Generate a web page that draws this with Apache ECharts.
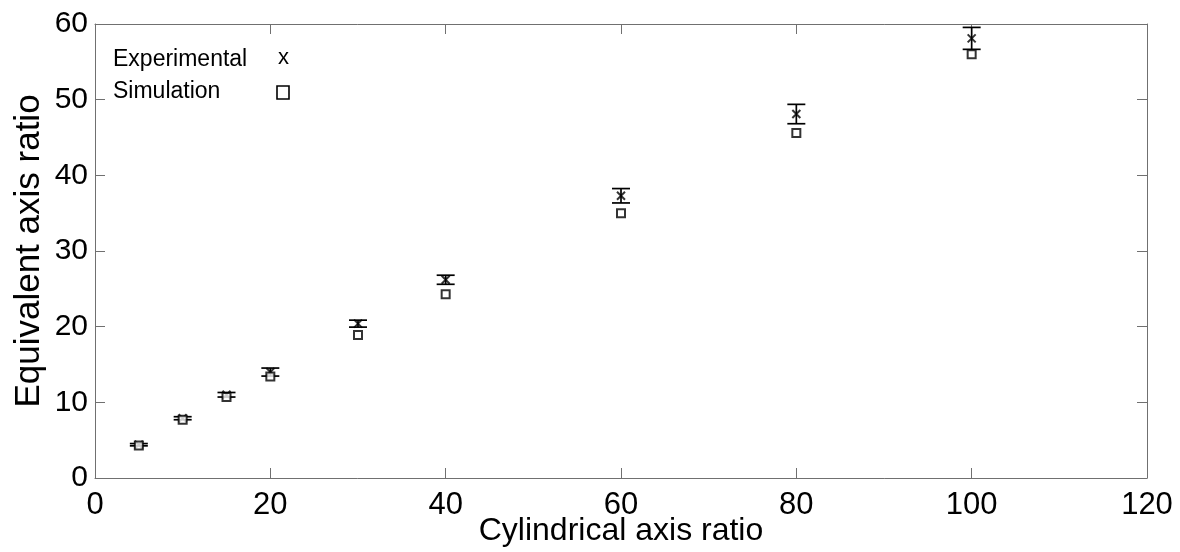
<!DOCTYPE html>
<html>
<head>
<meta charset="utf-8">
<script src="https://cdn.jsdelivr.net/npm/echarts@6/dist/echarts.min.js"></script>
<style>html,body{margin:0;padding:0;background:#fff;}#c{width:1180px;height:552px;}</style>
</head>
<body>
<div id="c"></div>
<script>
const xValues = [5, 10, 15, 20, 30, 40, 60, 80, 100];
const experimental = [4.4, 7.9, 11.0, 14.0, 20.4, 26.2, 37.3, 48.1, 58.1];
const experimentalErr = [0.15, 0.2, 0.3, 0.53, 0.46, 0.6, 0.95, 1.28, 1.45];
const simulation = [4.3, 7.7, 10.7, 13.4, 18.9, 24.3, 35.0, 45.6, 56.0];
const xTicks = [0, 20, 40, 60, 80, 100, 120];
const yTicks = [0, 10, 20, 30, 40, 50, 60];
const legendNames = ['Experimental', 'Simulation'];
const xTitle = 'Cylindrical axis ratio';
const yTitle = 'Equivalent axis ratio';

const chart = echarts.init(document.getElementById('c'), null, {renderer: 'canvas'});
const font = '"Liberation Sans", Arial, sans-serif';
const axisColor = '#707070';
const xSymbol = 'path://M0,0L10,10M10,0L0,10';

const expData = xValues.map((x, i) => [x, experimental[i]]);
const errData = xValues.map((x, i) => [x, experimental[i] - experimentalErr[i], experimental[i] + experimentalErr[i]]);
const simData = xValues.map((x, i) => [x, simulation[i]]);

const baseX = {
  type: 'value', min: xTicks[0], max: xTicks[xTicks.length - 1], interval: 20,
  splitLine: {show: false},
  axisLine: {show: true, onZero: false, lineStyle: {color: axisColor, width: 1}},
  axisTick: {show: true, inside: true, length: 10, lineStyle: {color: axisColor}},
};
const baseY = {
  type: 'value', min: yTicks[0], max: yTicks[yTicks.length - 1], interval: 10,
  splitLine: {show: false},
  axisLine: {show: true, onZero: false, lineStyle: {color: axisColor, width: 1}},
  axisTick: {show: true, inside: true, length: 10, lineStyle: {color: axisColor}},
};

chart.setOption({
  animation: false,
  backgroundColor: '#fff',
  grid: {left: 95, right: 33, top: 24, bottom: 74, containLabel: false, outerBoundsMode: 'none'},
  xAxis: [
    Object.assign({}, baseX, {
      position: 'bottom',
      name: xTitle, nameLocation: 'middle', nameGap: 37, nameMoveOverlap: false,
      nameTextStyle: {fontFamily: font, fontSize: 32, color: '#000'},
      axisLabel: {show: true, fontFamily: font, fontSize: 31, color: '#000', margin: 12}
    }),
    Object.assign({}, baseX, {position: 'top', axisLabel: {show: false}})
  ],
  yAxis: [
    Object.assign({}, baseY, {
      position: 'left',
      name: yTitle, nameLocation: 'middle', nameGap: 48, nameRotate: 90, nameMoveOverlap: false,
      nameTextStyle: {fontFamily: font, fontSize: 35, color: '#000'},
      axisLabel: {show: true, fontFamily: font, fontSize: 30, color: '#000', margin: 7}
    }),
    Object.assign({}, baseY, {position: 'right', axisLabel: {show: false}})
  ],
  series: [
    {
      name: 'errorbars', type: 'custom', xAxisIndex: 0, yAxisIndex: 0,
      data: errData, z: 3,
      renderItem: function (params, api) {
        const x = api.value(0);
        const lo = api.coord([x, api.value(1)]);
        const hi = api.coord([x, api.value(2)]);
        const hw = 9;
        const st = {stroke: '#000', lineWidth: 1.7};
        return {
          type: 'group',
          children: [
            {type: 'line', shape: {x1: lo[0], y1: lo[1], x2: hi[0], y2: hi[1]}, style: st},
            {type: 'line', shape: {x1: lo[0] - hw, y1: lo[1], x2: lo[0] + hw, y2: lo[1]}, style: st},
            {type: 'line', shape: {x1: hi[0] - hw, y1: hi[1], x2: hi[0] + hw, y2: hi[1]}, style: st}
          ]
        };
      }
    },
    {
      name: legendNames[0], type: 'scatter', data: expData, symbol: xSymbol, symbolSize: 8, z: 4,
      itemStyle: {color: 'none', borderColor: '#000', borderWidth: 2}
    },
    {
      name: legendNames[1], type: 'scatter', data: simData, symbol: 'rect', symbolSize: 8, z: 4,
      itemStyle: {color: '#fff', borderColor: '#000', borderWidth: 2}
    }
  ],
  graphic: [
    {type: 'text', left: 113, top: 48, style: {text: legendNames[0], font: '23px ' + font, fill: '#000'}},
    {type: 'text', left: 113, top: 80, style: {text: legendNames[1], font: '23px ' + font, fill: '#000'}},
    {type: 'text', left: 278, top: 47, style: {text: 'x', font: '22px ' + font, fill: '#000'}},
    {type: 'rect', shape: {x: 277, y: 86, width: 12, height: 13}, style: {fill: '#fff', stroke: '#000', lineWidth: 1.6}}
  ]
});
</script>
</body>
</html>
